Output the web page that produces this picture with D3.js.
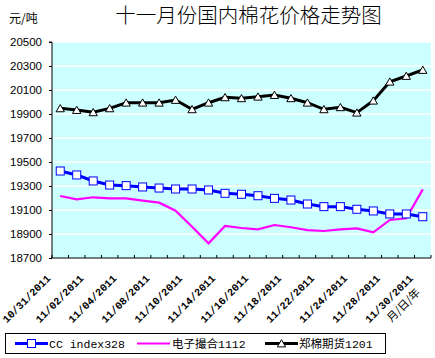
<!DOCTYPE html>
<html><head><meta charset="utf-8">
<script src="https://cdn.jsdelivr.net/npm/d3@7"></script>
<style>body{margin:0;background:#fff}svg{display:block}</style>
</head><body>
<svg id="c" width="435" height="358"></svg>
<script>
const dates = ["10/31/2011","11/01/2011","11/02/2011","11/03/2011","11/04/2011","11/07/2011","11/08/2011","11/09/2011","11/10/2011","11/11/2011","11/14/2011","11/15/2011","11/16/2011","11/17/2011","11/18/2011","11/21/2011","11/22/2011","11/23/2011","11/24/2011","11/25/2011","11/28/2011","11/29/2011","11/30/2011"];
const ccIndex = [19425,19392,19342,19308,19303,19292,19283,19275,19275,19267,19239,19231,19219,19197,19183,19150,19128,19128,19106,19092,19067,19067,19044];
const dianzi = [19217,19189,19206,19197,19197,19178,19161,19094,18961,18822,18967,18950,18939,18975,18956,18933,18925,18939,18947,18914,19017,19031,19272];
const zhengmian = [19947,19933,19914,19947,19994,19994,19994,20017,19939,19994,20039,20031,20044,20058,20031,19994,19939,19956,19911,20011,20169,20217,20267];
const yTicks = [18700,18900,19100,19300,19500,19700,19900,20100,20300,20500];
const seriesNames = ["CC index328","电子撮合1112","郑棉期货1201"];
const title = "十一月份国内棉花价格走势图";
const unit = "元/吨";
const axisTitle = "月/日/年";

const svg = d3.select("#c");
const L = 52, R = 431, T = 42, B = 258;
const x = d3.scaleBand().domain(d3.range(dates.length)).range([L, R]);
const y = d3.scaleLinear().domain([18700, 20500]).range([B, T]);
const cx = i => x(i) + x.bandwidth() / 2;

// plot background
svg.append("rect").attr("x", L).attr("y", T).attr("width", R - L).attr("height", B - T).attr("fill", "#ccffff");
// gridlines
svg.append("g").selectAll("line").data(yTicks.filter(v => v > 18700)).join("line")
  .attr("x1", L).attr("x2", R).attr("y1", d => y(d)).attr("y2", d => y(d))
  .attr("stroke", "#fff").attr("stroke-width", 1.6);

// y axis
const ya = svg.append("g").attr("transform", `translate(${L},0)`)
  .call(d3.axisLeft(y).tickValues(yTicks).tickSize(3).tickPadding(7).tickFormat(d3.format("d")));
ya.select(".domain").attr("stroke", "#000").attr("d", `M-3,${T}H0V${B}`);
ya.selectAll(".tick line").attr("stroke", "#000");
ya.selectAll("text").attr("font-family", "Liberation Sans, Arial").attr("font-size", 11.5).attr("fill", "#000");

// x axis
const xa = svg.append("g").attr("transform", `translate(0,${B})`);
xa.append("line").attr("x1", L).attr("x2", R).attr("y1", 0).attr("y2", 0).attr("stroke", "#000");
xa.selectAll("line.tk").data(d3.range(dates.length + 1)).join("line").attr("class", "tk")
  .attr("x1", i => L + i * x.step()).attr("x2", i => L + i * x.step()).attr("y1", 0).attr("y2", -3).attr("stroke", "#000");
const lab = xa.selectAll("text").data(d3.range(0, dates.length, 2)).join("text")
  .attr("transform", i => `translate(${cx(i) - 9},${21}) rotate(-45)`)
  .attr("text-anchor", "end")
  .attr("font-family", "Liberation Mono, monospace").attr("font-weight", "bold").attr("font-size", 10.5).attr("fill", "#000")
  .text(i => dates[i]);
lab.filter(i => i === dates.length - 1).append("tspan").attr("x", -5).attr("dy", 15)
  .attr("font-family", "Noto Sans CJK SC").attr("font-weight", "normal").attr("font-size", 11).text(axisTitle);

// lines
const line = arr => d3.line().x((d, i) => cx(i)).y(d => y(d))(arr);
svg.append("path").attr("d", line(dianzi)).attr("fill", "none").attr("stroke", "#ff00ff").attr("stroke-width", 2.2);
svg.append("path").attr("d", line(ccIndex)).attr("fill", "none").attr("stroke", "#0000ff").attr("stroke-width", 3);
svg.append("path").attr("d", line(zhengmian)).attr("fill", "none").attr("stroke", "#000").attr("stroke-width", 3);

svg.append("g").selectAll("rect").data(ccIndex).join("rect")
  .attr("x", (d, i) => cx(i) - 4).attr("y", d => y(d) - 4).attr("width", 8).attr("height", 8)
  .attr("fill", "#fff").attr("stroke", "#0000ff").attr("stroke-width", 1);
const tri = d3.symbol().type(d3.symbolTriangle).size(30);
svg.append("g").selectAll("path").data(zhengmian).join("path")
  .attr("transform", (d, i) => `translate(${cx(i)},${y(d) + 1})`).attr("d", tri())
  .attr("fill", "#fff").attr("stroke", "#000").attr("stroke-width", 1);

// title and unit
svg.append("text").attr("x", 248.5).attr("y", 23).attr("text-anchor", "middle")
  .attr("font-family", "Noto Sans CJK SC").attr("font-size", 20.5).attr("font-weight", 300).attr("fill", "#000").text(title);
svg.append("text").attr("x", 9).attr("y", 23).attr("font-family", "Noto Sans CJK SC").attr("font-size", 12).attr("fill", "#000").text(unit);

// legend
const lg = svg.append("g");
lg.append("rect").attr("x", 5.5).attr("y", 333.5).attr("width", 380).attr("height", 20).attr("fill", "#fff").attr("stroke", "#000");
const items = [
  {x1: 15, x2: 48, tx: 49, color: "#0000ff", w: 3, mark: "sq"},
  {x1: 137, x2: 170, tx: 172, color: "#ff00ff", w: 2.2, mark: null},
  {x1: 265, x2: 298, tx: 299, color: "#000", w: 3, mark: "tri"}
];
items.forEach((it, k) => {
  const my = 343.5;
  lg.append("line").attr("x1", it.x1).attr("x2", it.x2).attr("y1", my).attr("y2", my).attr("stroke", it.color).attr("stroke-width", it.w);
  const mx = (it.x1 + it.x2) / 2;
  if (it.mark === "sq") lg.append("rect").attr("x", mx - 4).attr("y", my - 4).attr("width", 8).attr("height", 8).attr("fill", "#fff").attr("stroke", it.color);
  if (it.mark === "tri") lg.append("path").attr("transform", `translate(${mx},${my + 1})`).attr("d", tri()).attr("fill", "#fff").attr("stroke", "#000");
  lg.append("text").attr("x", it.tx).attr("y", 348).attr("font-family", "Liberation Mono, Noto Sans CJK SC").attr("font-size", 11.5).attr("fill", "#000").text(seriesNames[k]);
});
</script>
</body></html>
